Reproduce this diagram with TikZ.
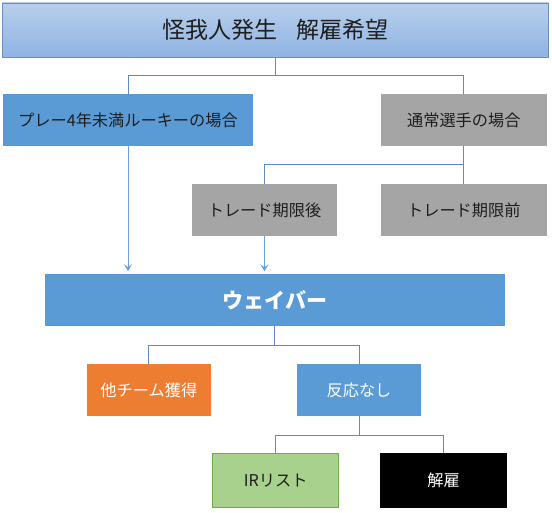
\documentclass[tikz,border=0pt]{standalone}
\usepackage{fontspec}
\setmainfont{Noto Sans CJK JP}
\usetikzlibrary{arrows.meta}
\definecolor{cblue}{HTML}{5B9BD5}
\definecolor{cgray}{HTML}{A5A5A5}
\definecolor{corange}{HTML}{ED7D31}
\definecolor{cgreen}{HTML}{A9D18E}
\definecolor{cgreenb}{HTML}{70AD47}
\definecolor{ctopA}{HTML}{B7CFEB}
\definecolor{ctopB}{HTML}{8FB4E3}
\definecolor{ctopline}{HTML}{6C8EBF}
\definecolor{cline}{HTML}{5E8CC2}
\definecolor{carrow}{HTML}{6F9FD6}
\definecolor{ctext}{HTML}{1E1E1E}
\begin{document}
\begin{tikzpicture}[x=1pt,y=-1pt,
  boxbase/.style={inner sep=0pt,outer sep=0pt,align=center,font=\fontsize{16.2}{19}\selectfont},
  bluebox/.style={boxbase,fill=cblue,text=ctext},
  graybox/.style={boxbase,fill=cgray,text=ctext},
  whitebox/.style={boxbase,text=white},
  tree/.style={draw=cline,line width=0.8pt},
  arr/.style={draw=carrow,line width=0.9pt,-{Stealth[length=7pt,width=8pt,inset=3pt]},shorten >=3pt},
]
\useasboundingbox (0,0) rectangle (552,513);
\node[boxbase,top color=ctopA,bottom color=ctopB,draw=ctopline,line width=0.8pt,text=ctext,
  minimum width=546.5pt,minimum height=54pt,font=\fontsize{23}{26}\selectfont] (top) at (275.3,30) {怪我人発生\hspace{0.8em}解雇希望};
\node[bluebox,minimum width=250pt,minimum height=52pt] (rookie) at (128,120) {プレー4年未満ルーキーの場合};
\node[graybox,minimum width=165.7pt,minimum height=52pt] (normal) at (463.8,120) {通常選手の場合};
\node[graybox,minimum width=145pt,minimum height=52pt] (after) at (264.5,210) {トレード期限後};
\node[graybox,minimum width=165.7pt,minimum height=52pt] (before) at (463.8,210) {トレード期限前};
\node[whitebox,fill=cblue,minimum width=459.7pt,minimum height=51.4pt,font=\fontsize{21}{24}\selectfont\bfseries] (waiver) at (274.85,300) {ウェイバー};
\node[whitebox,fill=corange,minimum width=123.7pt,minimum height=51.4pt] (other) at (148.85,390) {他チーム獲得};
\node[whitebox,fill=cblue,minimum width=123.4pt,minimum height=52pt] (noreact) at (359,390) {反応なし};
\node[boxbase,fill=cgreen,draw=cgreenb,line width=0.8pt,text=ctext,minimum width=126pt,minimum height=53.7pt] (ir) at (275.7,480.2) {IRリスト};
\node[whitebox,fill=black,minimum width=127pt,minimum height=55pt] (fire) at (443.5,480.5) {解雇};
% tree connectors
\draw[tree] (top.south) -- ++(0,18) coordinate (t1) -| (rookie.north);
\draw[tree] (t1) -| (normal.north);
\draw[tree] (normal.south) -- ++(0,18) coordinate (t2) -| (after.north);
\draw[tree] (t2) -- (before.north);
\draw[tree] (waiver.south) -- ++(0,19.5) coordinate (t3) -| (other.north);
\draw[tree] (t3) -| (noreact.north);
\draw[tree] (noreact.south) -- ++(0,19) coordinate (t4) -| (ir.north);
\draw[tree] (t4) -| (fire.north);
% arrows
\draw[arr] (rookie.south) -- (rookie.south |- waiver.north);
\draw[arr] (after.south) -- (after.south |- waiver.north);
\end{tikzpicture}
\end{document}
